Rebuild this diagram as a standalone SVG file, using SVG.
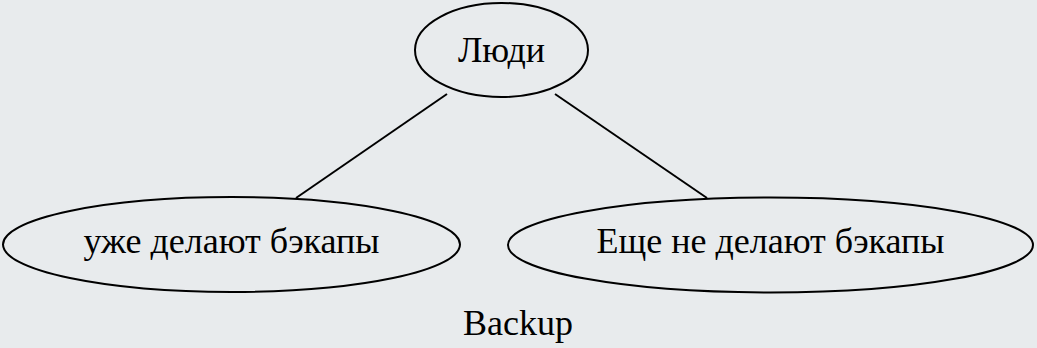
<svg xmlns="http://www.w3.org/2000/svg" width="1037" height="348" viewBox="0 0 1037 348">
<rect width="1037" height="348" fill="#e8ebed"/>
<g id="edges" stroke="#000" stroke-width="2" fill="none">
<path d="M447,94 L296,198"/>
<path d="M555,94 L707,198"/>
</g>
<g id="node-people">
<ellipse cx="501.5" cy="50" rx="86.5" ry="47" fill="none" stroke="#000" stroke-width="2"/>
<text x="501.5" y="62" font-family="Liberation Serif" font-size="36" text-anchor="middle">Люди</text>
</g>
<g id="node-do">
<ellipse cx="231.5" cy="244.5" rx="228.5" ry="47.5" fill="none" stroke="#000" stroke-width="2"/>
<text x="231.5" y="253" font-family="Liberation Serif" font-size="36" text-anchor="middle">уже делают бэкапы</text>
</g>
<g id="node-dont">
<ellipse cx="770.5" cy="245" rx="262.5" ry="47.5" fill="none" stroke="#000" stroke-width="2"/>
<text x="770.5" y="253" font-family="Liberation Serif" font-size="36" text-anchor="middle">Еще не делают бэкапы</text>
</g>
<text id="label" x="518" y="335" font-family="Liberation Serif" font-size="36" text-anchor="middle">Backup</text>
</svg>
